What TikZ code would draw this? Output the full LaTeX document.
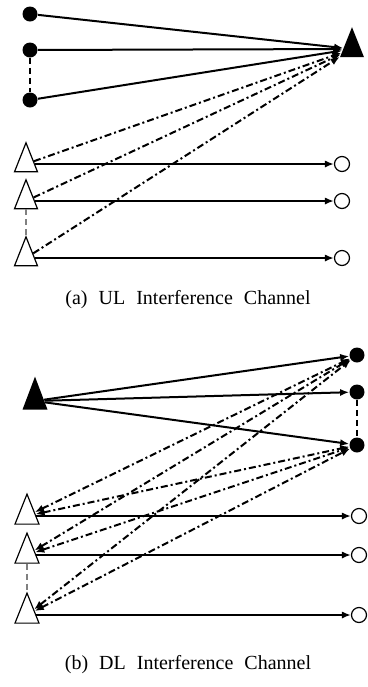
\documentclass[tikz,border=0pt]{standalone}
\usepackage{fontspec}
\setmainfont{Liberation Serif}
\usetikzlibrary{arrows.meta, shapes.geometric}
\newcommand{\capsp}{\hspace{5.5pt}}

\begin{document}
\begin{tikzpicture}[x=0.5pt, y=-0.5pt, >={Latex[length=4.5pt,width=3.6pt]},
    ue/.style={circle, fill=black, inner sep=0pt, minimum size=7.5pt},
    rx/.style={circle, draw, line width=0.6pt, inner sep=0pt, minimum size=7.5pt},
    bs/.style={isosceles triangle, isosceles triangle stretches, shape border rotate=90,
        fill=black, inner sep=0pt, minimum width=12pt, minimum height=15pt},
    tx/.style={isosceles triangle, isosceles triangle stretches, shape border rotate=90,
        draw, line width=0.6pt, inner sep=0pt, minimum width=11.5pt, minimum height=14.5pt},
    link/.style={line width=1pt},
    interf/.style={line width=1pt, dash pattern=on 3.5pt off 1.5pt on 1pt off 1.5pt},
    sep/.style={line width=1pt, dash pattern=on 3pt off 2pt}]
    \useasboundingbox (0,0) rectangle (368,687);

    % UL: users and base station
    \node[ue] (u1) at (30,14) {};
    \node[ue] (u2) at (30,50) {};
    \node[ue] (u3) at (30,100) {};
    \node[bs] (b1) at (352,49) {};

    % UL: interfering pairs
    \node[tx] (t1) at (26,164) {};
    \node[tx] (t2) at (26,201) {};
    \node[tx] (t3) at (26,258) {};
    \node[rx] (r1) at (342,164) {};
    \node[rx] (r2) at (342,201) {};
    \node[rx] (r3) at (342,258) {};

    \node (capa) at (188,300) {(a)\capsp UL\capsp Interference\capsp Channel};

    % UL connections
    \foreach \i in {1,2,3}
        \draw[link, ->] (u\i) -- (b1);
    \foreach \i in {1,2,3}
        \draw[link, ->] (t\i) -- (r\i);
    \foreach \i in {1,2,3}
        \draw[interf, ->] (t\i) -- (b1);
    \draw[sep] (u2) -- (u3);
    \draw[sep, gray] (t2) -- (t3);

    % DL: base station and users
    \node[bs, minimum width=12.5pt, minimum height=16.5pt] (b2) at (35,401) {};
    \node[ue] (d1) at (357,355) {};
    \node[ue] (d2) at (357,392) {};
    \node[ue] (d3) at (357,445) {};

    % DL: interfering pairs
    \node[tx, minimum width=12pt, minimum height=15pt] (t4) at (27,516) {};
    \node[tx, minimum width=12pt, minimum height=15pt] (t5) at (27,555) {};
    \node[tx, minimum width=12pt, minimum height=15pt] (t6) at (27,615) {};
    \node[rx] (r4) at (359,516) {};
    \node[rx] (r5) at (359,555) {};
    \node[rx] (r6) at (359,615) {};

    \node (capb) at (188,665) {(b)\capsp DL\capsp Interference\capsp Channel};

    % DL connections
    \foreach \i in {1,2,3}
        \draw[link, ->] (b2) -- (d\i);
    \foreach \i in {4,5,6}
        \draw[link, ->] (t\i) -- (r\i);
    \foreach \i in {4,5,6}
        \foreach \j in {1,3}
            \draw[interf, <->] (t\i) -- (d\j);
    \draw[sep] (d2) -- (d3);
    \draw[sep, gray] (t5) -- (t6);
\end{tikzpicture}
\end{document}
